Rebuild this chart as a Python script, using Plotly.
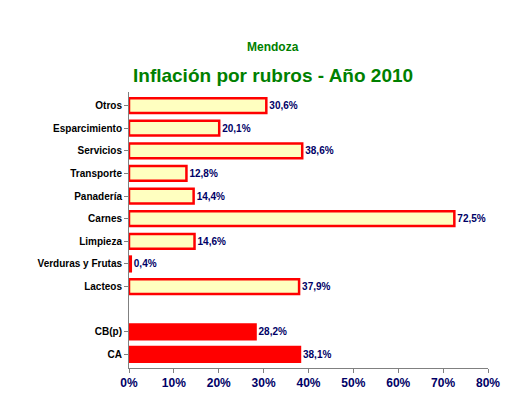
import plotly.graph_objects as go

cats = ["Otros","Esparcimiento","Servicios","Transporte","Panadería","Carnes","Limpieza","Verduras y Frutas","Lacteos","CB(p)","CA"]
vals = [30.6,20.1,38.6,12.8,14.4,72.5,14.6,0.4,37.9,28.2,38.1]
slots = [0,1,2,3,4,5,6,7,8,10,11]
fills = ["#FFFFC0"]*9 + ["#FF0000"]*2
labels = [f"{v:.1f}%".replace(".", ",") for v in vals]
xticks = [0,10,20,30,40,50,60,70,80]

fnt = "Liberation Sans Narrow, Arial Narrow, Liberation Sans, Arial"
fig = go.Figure(go.Bar(
    x=vals, y=slots, orientation="h", width=0.65,
    marker=dict(color=fills, line=dict(color="#FF0000", width=2.5)),
    text=labels, textposition="outside", cliponaxis=False,
    texttemplate="<b>%{text}</b>",
    textfont=dict(family=fnt, size=10, color="#000066"),
))
fig.update_layout(
    width=528, height=400, plot_bgcolor="white", paper_bgcolor="white",
    margin=dict(l=121, r=48, t=84, b=40, autoexpand=False), showlegend=False,
    font=dict(family=fnt),
)
ph = 400 - 84 - 40
fig.add_annotation(text="<b>Mendoza</b>", xref="paper", yref="paper", x=0.4, y=1 + (84 - 30) / ph,
                   showarrow=False, font=dict(family=fnt, size=12, color="#008000"))
fig.add_annotation(text="<b>Inflación por rubros - Año 2010</b>", xref="paper", yref="paper", x=0.4,
                   y=1 + (84 - 55) / ph, showarrow=False, font=dict(family=fnt, size=19, color="#008000"))
fig.update_xaxes(range=[0,80], tickvals=xticks, ticktext=[f"<b>{t}%</b>" for t in xticks],
                 showgrid=False, showline=True, linecolor="#808080", ticks="outside",
                 tickcolor="#808080", ticklen=4, tickfont=dict(family=fnt, size=12, color="#000066"),
                 zeroline=False, automargin=False)
fig.update_yaxes(range=[11.6,-0.6], tickvals=slots, ticktext=[f"<b>{c}</b>" for c in cats],
                 showgrid=False, showline=True, linecolor="#808080", ticks="outside",
                 tickcolor="#808080", ticklen=4, tickfont=dict(family=fnt, size=10, color="black"),
                 automargin=False)
fig.write_html("out.html")
